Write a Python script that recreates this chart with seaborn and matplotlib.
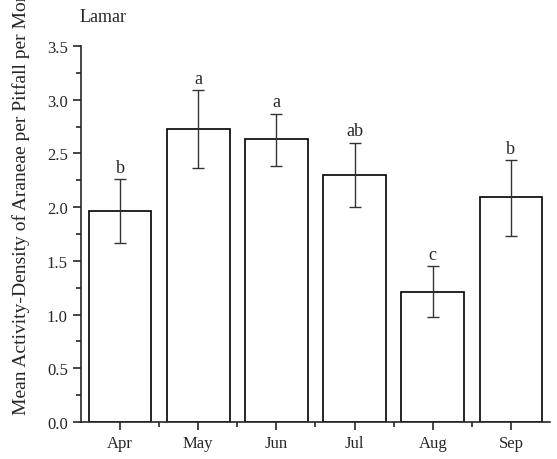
import numpy as np
import pandas as pd
import matplotlib.pyplot as plt
import seaborn as sns
from matplotlib.ticker import MultipleLocator, FixedLocator

months = ['Apr', 'May', 'Jun', 'Jul', 'Aug', 'Sep']
means = [1.96, 2.73, 2.63, 2.30, 1.21, 2.09]
err_low = [1.67, 2.36, 2.38, 2.00, 0.98, 1.73]
err_high = [2.26, 3.09, 2.87, 2.60, 1.45, 2.44]
letters = ['b', 'a', 'a', 'ab', 'c', 'b']

sns.set_style('ticks')
plt.rcParams['font.family'] = ['Liberation Serif', 'DejaVu Serif']

df = pd.DataFrame({'month': months, 'mean': means})

fig = plt.figure(figsize=(5.57, 4.60), dpi=100)
ax = fig.add_axes([81 / 557, 37 / 460, 469 / 557, 376 / 460])

sns.barplot(data=df, x='month', y='mean', color='white', edgecolor='black',
            linewidth=1.2, width=0.8, ax=ax, errorbar=None)

# error bars from the lower / upper limits
x = np.arange(len(months))
lo = np.array(means) - np.array(err_low)
hi = np.array(err_high) - np.array(means)
ax.errorbar(x, means, yerr=[lo, hi], fmt='none', ecolor='#333333',
            elinewidth=1.0, capsize=4, capthick=1.0)

for xi, top, lab in zip(x, err_high, letters):
    ax.text(xi, top + 0.03, lab, ha='center', va='bottom', fontsize=13)

ax.set_xlim(-0.5, 5.5)
ax.set_ylim(0, 3.5)
ax.yaxis.set_major_locator(MultipleLocator(0.5))
ax.yaxis.set_minor_locator(MultipleLocator(0.25))
ax.xaxis.set_minor_locator(FixedLocator(np.arange(0.5, 5.5, 1.0)))
ax.set_yticks(np.arange(0, 3.51, 0.5))
ax.set_yticklabels([f'{v:.1f}' for v in np.arange(0, 3.51, 0.5)])

ax.tick_params(axis='both', which='major', length=6, width=1.2, labelsize=12, direction='out')
ax.tick_params(axis='both', which='minor', length=3.5, width=1.2, direction='out')
for s in ['left', 'bottom']:
    ax.spines[s].set_linewidth(1.2)
sns.despine(ax=ax)

ax.set_xlabel('')
# label runs past the top edge, as in the original figure
ax.set_ylabel('Mean Activity-Density of Araneae per Pitfall per Month', fontsize=14)
ax.yaxis.set_label_coords(-0.108, 0.606)

fig.text(80 / 557, 1 - 18 / 460, 'Lamar', fontsize=13, ha='left', va='center')

fig.savefig('out.png', dpi=100)
